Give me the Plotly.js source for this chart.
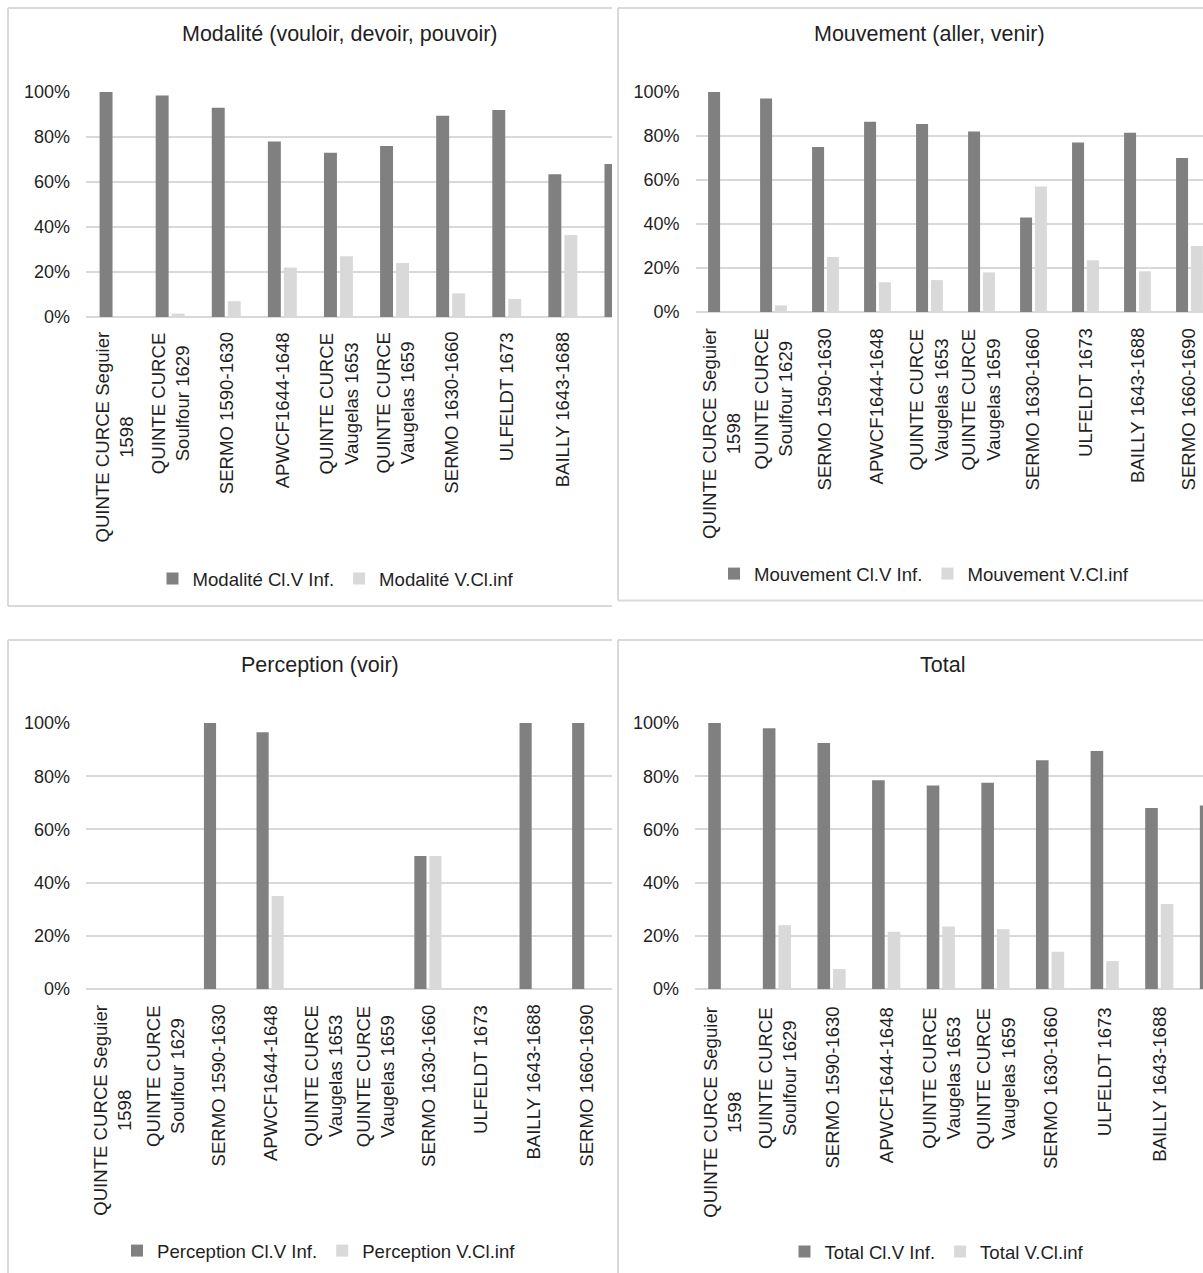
<!DOCTYPE html>
<html>
<head>
<meta charset="utf-8">
<script src="https://cdn.plot.ly/plotly-3.0.1.min.js"></script>
<style>
  html, body { margin: 0; padding: 0; background: #ffffff; }
  #chart { width: 1203px; height: 1273px; }
</style>
</head>
<body>
<div id="chart"></div>
<script>
// ---------- DATA ----------
const categories = [
  "QUINTE CURCE Seguier 1598", "QUINTE CURCE Soulfour 1629", "SERMO 1590-1630",
  "APWCF1644-1648", "QUINTE CURCE Vaugelas 1653", "QUINTE CURCE Vaugelas 1659",
  "SERMO 1630-1660", "ULFELDT 1673", "BAILLY 1643-1688", "SERMO 1660-1690"
];
const categoryLabels = [
  "QUINTE CURCE Seguier<br>1598", "QUINTE CURCE<br>Soulfour 1629", "SERMO 1590-1630",
  "APWCF1644-1648", "QUINTE CURCE<br>Vaugelas 1653", "QUINTE CURCE<br>Vaugelas 1659",
  "SERMO 1630-1660", "ULFELDT 1673", "BAILLY 1643-1688", "SERMO 1660-1690"
];
const chartTitles = ["Modalité (vouloir, devoir, pouvoir)", "Mouvement (aller, venir)", "Perception (voir)", "Total"];
const seriesClVNames = ["Modalité Cl.V Inf.", "Mouvement Cl.V Inf.", "Perception Cl.V Inf.", "Total Cl.V Inf."];
const seriesVClNames = ["Modalité V.Cl.inf", "Mouvement V.Cl.inf", "Perception V.Cl.inf", "Total V.Cl.inf"];
const yTickVals = [0, 20, 40, 60, 80, 100];
const yTickText = ["0%", "20%", "40%", "60%", "80%", "100%"];

const modaliteClV   = [100, 98.5, 93, 78, 73, 76, 89.5, 92, 63.5, 68];
const modaliteVCl   = [0, 1.5, 7, 22, 27, 24, 10.5, 8, 36.5, 32];
const mouvementClV  = [100, 97, 75, 86.5, 85.5, 82, 43, 77, 81.5, 70];
const mouvementVCl  = [0, 3, 25, 13.5, 14.5, 18, 57, 23.5, 18.5, 30];
const perceptionClV = [0, 0, 100, 96.5, 0, 0, 50, 0, 100, 100];
const perceptionVCl = [0, 0, 0, 35, 0, 0, 50, 0, 0, 0];
const totalClV      = [100, 98, 92.5, 78.5, 76.5, 77.5, 86, 89.5, 68, 69];
const totalVCl      = [0, 24, 7.5, 21.5, 23.5, 22.5, 14, 10.5, 32, 31];

const clVSeries = [modaliteClV, mouvementClV, perceptionClV, totalClV];
const vClSeries = [modaliteVCl, mouvementVCl, perceptionVCl, totalVCl];

// ---------- LAYOUT (pixel geometry) ----------
const W = 1203, H = 1273;
const fx = v => v / W;
const fy = v => 1 - v / H;
const FONT = '"Liberation Sans", Arial, Helvetica, sans-serif';
const TXT = '#1f1f1f';
const DARK = '#808080';
const LIGHT = '#d9d9d9';
const GRID = '#d9d9d9';

const panels = [
  { plotX: [86, 612],     plotY: [92, 317],  xmax: 8.876, titleX: 340, titleY: 34,  legX: 336, legY: 579,  labelTop: 330 },
  { plotX: [695.5, 1203], plotY: [92, 312],  xmax: 9.26,  titleX: 929, titleY: 34,  legX: 924, legY: 574,  labelTop: 326 },
  { plotX: [86, 612],     plotY: [723, 989], xmax: 9.5,   titleX: 320, titleY: 665, legX: 319, legY: 1251, labelTop: 1003 },
  { plotX: [695, 1203],   plotY: [723, 989], xmax: 8.80,  titleX: 942, titleY: 665, legX: 937, legY: 1252, labelTop: 1005 }
];

const traces = [];
const layout = {
  width: W, height: H,
  margin: { l: 0, r: 0, t: 0, b: 0 },
  paper_bgcolor: '#ffffff',
  plot_bgcolor: 'rgba(0,0,0,0)',
  font: { family: FONT, size: 18, color: TXT },
  barmode: 'group',
  bargap: 0.43,
  bargroupgap: 0.19,
  annotations: [],
  shapes: []
};

panels.forEach((p, i) => {
  const s = i === 0 ? '' : String(i + 1);
  const xa = 'x' + s, ya = 'y' + s;
  const legKey = 'legend' + s;

  traces.push({
    type: 'bar', x: categories, y: clVSeries[i], name: seriesClVNames[i],
    xaxis: xa, yaxis: ya, legend: legKey,
    marker: { color: DARK, line: { width: 0 } }, hoverinfo: 'skip'
  });
  traces.push({
    type: 'bar', x: categories, y: vClSeries[i], name: seriesVClNames[i],
    xaxis: xa, yaxis: ya, legend: legKey,
    marker: { color: LIGHT, line: { width: 0 } }, hoverinfo: 'skip'
  });

  layout['xaxis' + s] = {
    type: 'category', categoryorder: 'array', categoryarray: categories,
    domain: [fx(p.plotX[0]), fx(p.plotX[1])],
    range: [-0.5, p.xmax], anchor: ya,
    showticklabels: false, showgrid: false, zeroline: false, showline: false,
    ticks: '', fixedrange: true
  };
  layout['yaxis' + s] = {
    domain: [fy(p.plotY[1]), fy(p.plotY[0])],
    range: [0, 100], anchor: xa,
    tickmode: 'array', tickvals: yTickVals, ticktext: yTickText,
    showgrid: true, gridcolor: GRID, gridwidth: 2,
    zeroline: true, zerolinecolor: GRID, zerolinewidth: 2,
    showline: false, ticks: '', ticklabelstandoff: 15,
    tickfont: { family: FONT, size: 18, color: TXT },
    fixedrange: true
  };
  layout[legKey] = {
    x: fx(p.legX), y: fy(p.legY), xanchor: 'center', yanchor: 'middle',
    orientation: 'h', bgcolor: 'rgba(0,0,0,0)',
    font: { family: FONT, size: 18.6, color: TXT },
    traceorder: 'normal', itemclick: false, itemdoubleclick: false
  };

  layout.annotations.push({
    text: chartTitles[i], xref: 'paper', yref: 'paper',
    x: fx(p.titleX), y: fy(p.titleY), xanchor: 'center', yanchor: 'middle',
    showarrow: false, font: { family: FONT, size: 21.5, color: TXT }
  });

  categories.forEach((c, k) => {
    layout.annotations.push({
      text: categoryLabels[k], xref: xa, yref: 'paper',
      x: c, y: fy(p.labelTop), xanchor: 'center', yanchor: 'top',
      textangle: -90, align: 'center', showarrow: false,
      font: { family: FONT, size: 18.6, color: TXT }
    });
  });
});

// chart-area borders (as in the cropped Excel charts)
const borderLines = [
  [8, 8, 612, 8], [8, 8, 8, 606], [8, 606, 612, 606],
  [618, 8, 1203, 8], [618, 8, 618, 600.5], [618, 600.5, 1203, 600.5],
  [8, 640, 612, 640], [8, 640, 8, 1273],
  [618, 640, 1203, 640], [618, 640, 618, 1273]
];
borderLines.forEach(b => {
  layout.shapes.push({
    type: 'line', xref: 'paper', yref: 'paper', layer: 'below',
    x0: fx(b[0]), y0: fy(b[1]), x1: fx(b[2]), y1: fy(b[3]),
    line: { color: GRID, width: 2 }
  });
});

Plotly.newPlot('chart', traces, layout, { displayModeBar: false, staticPlot: true });
</script>
</body>
</html>
